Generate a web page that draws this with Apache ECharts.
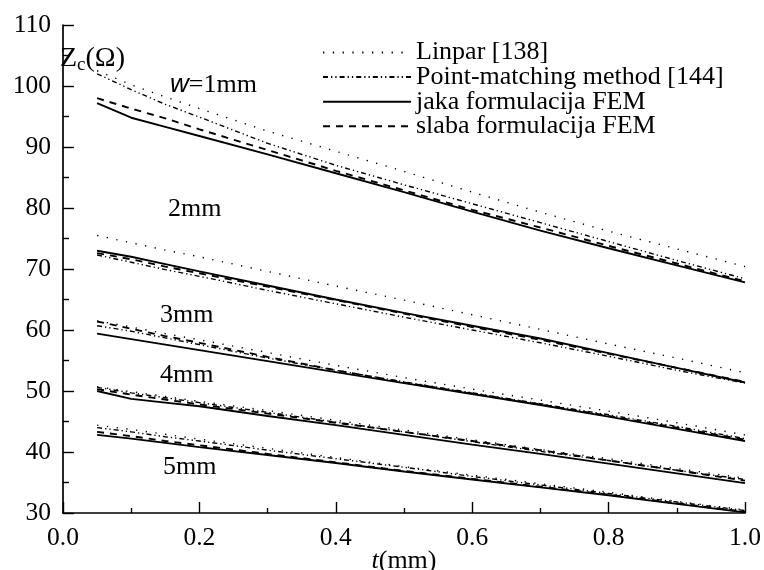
<!DOCTYPE html>
<html>
<head>
<meta charset="utf-8">
<script src="https://cdn.jsdelivr.net/npm/echarts@6/dist/echarts.min.js"></script>
<style>
html,body{margin:0;padding:0;background:#fff;}
#c{width:764px;height:570px;}
</style>
</head>
<body>
<div id="c"></div>
<script>
// t values (mm)
var T = [0.05, 0.1, 0.15, 0.2, 0.3, 0.4, 0.5, 0.6, 0.7, 0.8, 0.9, 1.0];
var methods = ['Linpar [138]', 'Point-matching method [144]', 'jaka formulacija FEM', 'slaba formulacija FEM'];
var groupLabels = ['1mm', '2mm', '3mm', '4mm', '5mm'];
var xTicks = [0, 0.2, 0.4, 0.6, 0.8, 1.0];
var yTicks = [30, 40, 50, 60, 70, 80, 90, 100, 110];

// w = 1mm
var linpar1 = [102.5, 100.2, 98.2, 96.3, 92.6, 89.3, 86.0, 82.6, 79.3, 76.2, 73.3, 70.4];
var pm1     = [102.0, 99.4, 97.0, 94.9, 90.6, 87.0, 83.8, 80.7, 77.6, 74.5, 71.4, 68.4];
var jaka1   = [97.2, 94.8, 93.3, 91.8, 88.8, 85.7, 82.6, 79.4, 76.3, 73.4, 70.6, 67.8];
var slaba1  = [98.0, 96.3, 94.7, 92.9, 89.5, 86.1, 82.9, 79.7, 76.8, 73.8, 70.9, 68.0];
// w = 2mm
var linpar2 = [75.5, 74.3, 73.1, 72.0, 69.6, 67.2, 64.9, 62.5, 60.1, 57.7, 55.4, 53.0];
var pm2     = [72.3, 71.1, 69.9, 68.8, 66.5, 64.3, 62.1, 60.0, 57.9, 55.7, 53.4, 51.3];
var jaka2   = [73.0, 72.0, 70.8, 69.6, 67.3, 65.0, 62.8, 60.7, 58.6, 56.2, 53.8, 51.4];
var slaba2  = [72.6, 71.6, 70.4, 69.3, 67.1, 64.9, 62.7, 60.5, 58.4, 56.1, 53.8, 51.5];
// w = 3mm
var linpar3 = [61.5, 60.5, 59.4, 58.4, 56.3, 54.2, 52.2, 50.3, 48.5, 46.7, 44.8, 42.8];
var pm3     = [60.7, 59.8, 58.7, 57.6, 55.4, 53.4, 51.5, 49.7, 47.9, 46.1, 44.2, 42.2];
var jaka3   = [59.4, 58.5, 57.6, 56.7, 54.9, 53.1, 51.3, 49.5, 47.7, 45.8, 43.8, 41.8];
var slaba3  = [61.4, 60.2, 59.0, 57.9, 55.6, 53.4, 51.4, 49.6, 47.8, 45.9, 44.0, 42.0];
// w = 4mm
var linpar4 = [50.7, 49.9, 49.1, 48.3, 46.8, 45.2, 43.6, 42.0, 40.4, 38.9, 37.3, 35.7];
var pm4     = [50.6, 49.7, 48.9, 48.1, 46.5, 44.9, 43.3, 41.7, 40.1, 38.6, 37.0, 35.5];
var jaka4   = [50.0, 48.7, 48.1, 47.5, 45.9, 44.4, 42.8, 41.2, 39.7, 38.1, 36.5, 34.9];
var slaba4  = [50.3, 49.4, 48.6, 47.8, 46.3, 44.8, 43.3, 41.8, 40.3, 38.6, 37.0, 35.3];
// w = 5mm
var linpar5 = [44.4, 43.7, 42.9, 42.1, 40.6, 39.1, 37.6, 36.2, 34.8, 33.4, 31.9, 30.5];
var pm5     = [44.0, 43.3, 42.5, 41.8, 40.3, 38.9, 37.5, 36.0, 34.6, 33.2, 31.8, 30.4];
var jaka5   = [42.8, 42.2, 41.5, 40.8, 39.5, 38.2, 36.8, 35.5, 34.2, 32.9, 31.5, 30.1];
var slaba5  = [43.3, 42.6, 41.8, 41.1, 39.7, 38.3, 36.9, 35.6, 34.3, 33.0, 31.6, 30.2];

var groups = [
  [linpar1, pm1, jaka1, slaba1],
  [linpar2, pm2, jaka2, slaba2],
  [linpar3, pm3, jaka3, slaba3],
  [linpar4, pm4, jaka4, slaba4],
  [linpar5, pm5, jaka5, slaba5]
];

var styles = [
  {color: '#000', width: 1.4, type: [1.3, 8.5]},
  {color: '#000', width: 1.4, type: [5, 3, 1.3, 3, 1.3, 3]},
  {color: '#000', width: 1.9, type: 'solid'},
  {color: '#000', width: 1.9, type: [7, 6]}
];

var series = [];
groups.forEach(function (g) {
  g.forEach(function (vals, m) {
    series.push({
      name: methods[m],
      type: 'line',
      symbol: 'none',
      smooth: false,
      lineStyle: styles[m],
      itemStyle: {color: '#000'},
      data: T.map(function (t, i) { return [t, vals[i]]; }),
      animation: false
    });
  });
});

var serif = 'Liberation Serif';
var fs = 25.5;
var chart = echarts.init(document.getElementById('c'));
chart.setOption({
  backgroundColor: '#fff',
  animation: false,
  grid: {left: 63, right: 19, top: 25, bottom: 57, containLabel: false, outerBoundsMode: 'none'},
  legend: {
    data: methods,
    orient: 'vertical',
    left: 322,
    top: 39.5,
    padding: 0,
    itemWidth: 88,
    itemHeight: 4,
    itemGap: -1.4,
    itemStyle: {opacity: 0},
    textStyle: {fontFamily: serif, fontSize: 26, color: '#000', padding: [0, 0, 0, 0]},
    selectedMode: false
  },
  xAxis: {
    type: 'value',
    min: 0, max: 1, interval: 0.2,
    name: '{i|t}{n|(mm)}',
    nameLocation: 'middle',
    nameGap: 35,
    nameMoveOverlap: false,
    nameTextStyle: {
      rich: {
        i: {fontFamily: serif, fontStyle: 'italic', fontSize: 26, color: '#000'},
        n: {fontFamily: serif, fontSize: 26, color: '#000'}
      }
    },
    axisLine: {lineStyle: {color: '#000', width: 1.7}},
    axisTick: {inside: true, length: 11, lineStyle: {color: '#000', width: 1.4}},
    minorTick: {show: true, splitNumber: 2, length: 5, lineStyle: {color: '#000', width: 1.4}},
    splitLine: {show: false},
    axisLabel: {fontFamily: serif, fontSize: fs, color: '#000', margin: 12,
      formatter: function (v) { return v.toFixed(1); }}
  },
  yAxis: {
    type: 'value',
    min: 30, max: 110, interval: 10,
    axisLine: {show: true, lineStyle: {color: '#000', width: 1.7}},
    axisTick: {show: true, inside: true, length: 11, lineStyle: {color: '#000', width: 1.4}},
    minorTick: {show: true, splitNumber: 2, length: 6, lineStyle: {color: '#000', width: 1.4}},
    splitLine: {show: false},
    axisLabel: {fontFamily: serif, fontSize: fs, color: '#000', margin: 12}
  },
  graphic: [
    {type: 'text', left: 60, top: 42, style: {
      text: '{z|Z}{s|c}{z|(Ω)}',
      rich: {
        z: {fontFamily: serif, fontSize: 28, fill: '#000', lineHeight: 28},
        s: {fontFamily: serif, fontSize: 19, fill: '#000', lineHeight: 28, padding: [14, 0, 0, 0]}
      }
    }},
    {type: 'text', left: 170, top: 72, style: {
      text: '{w|w}{n|=' + groupLabels[0] + '}',
      rich: {
        w: {fontFamily: 'Liberation Sans', fontStyle: 'italic', fontSize: 26, fill: '#000'},
        n: {fontFamily: serif, fontSize: 26, fill: '#000'}
      }
    }},
    {type: 'text', x: 168, y: 209, style: {text: groupLabels[1], fontFamily: serif, fontSize: 26, fill: '#000', verticalAlign: 'middle'}},
    {type: 'text', x: 160, y: 315, style: {text: groupLabels[2], fontFamily: serif, fontSize: 26, fill: '#000', verticalAlign: 'middle'}},
    {type: 'text', x: 160, y: 375, style: {text: groupLabels[3], fontFamily: serif, fontSize: 26, fill: '#000', verticalAlign: 'middle'}},
    {type: 'text', x: 163, y: 467, style: {text: groupLabels[4], fontFamily: serif, fontSize: 26, fill: '#000', verticalAlign: 'middle'}}
  ],
  series: series
});
</script>
</body>
</html>
